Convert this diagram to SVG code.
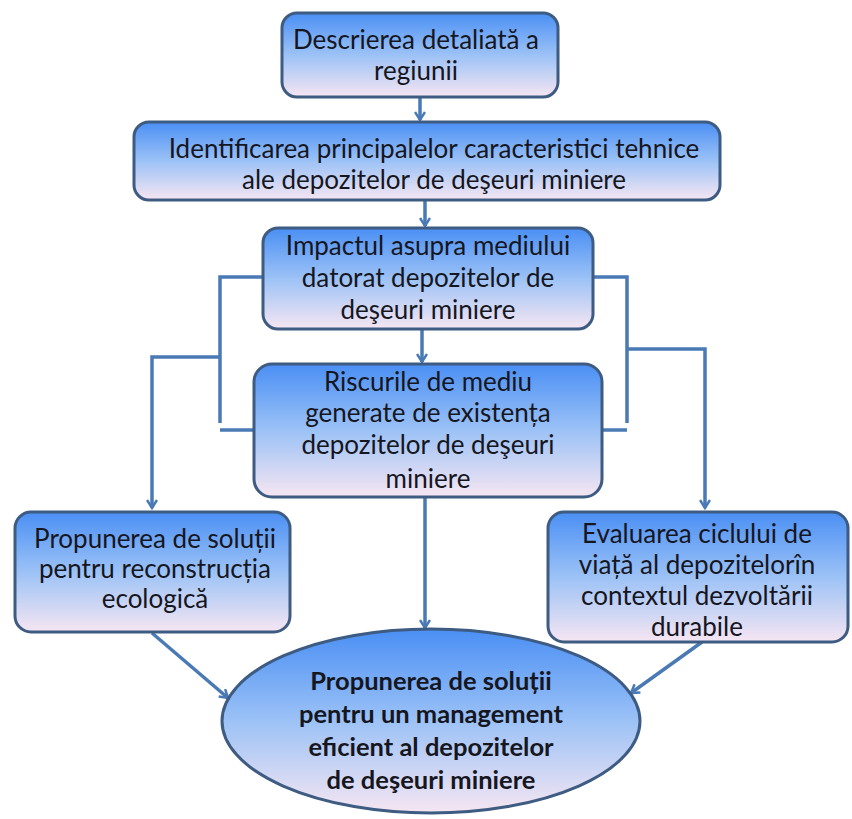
<svg xmlns="http://www.w3.org/2000/svg" width="852" height="819" viewBox="0 0 852 819">
<defs>
<linearGradient id="g" x1="0" y1="0" x2="0" y2="1">
<stop offset="0" stop-color="#4a8ff4"/>
<stop offset="0.5" stop-color="#9cc2f6"/>
<stop offset="1" stop-color="#f6e6f2"/>
</linearGradient>
<marker id="ah" markerWidth="12" markerHeight="12" refX="9" refY="6" orient="auto" markerUnits="userSpaceOnUse">
<path d="M1,1 L9,6 L1,11" fill="none" stroke="#4a7ab5" stroke-width="2.5"/>
</marker>
<style>
.box{fill:url(#g);stroke:#3e5b82;stroke-width:3}
.t{font-family:Lato,"Open Sans",sans-serif;font-size:26px;fill:#16161e;text-anchor:middle}
.b{font-weight:bold;font-size:25.5px}
.c{fill:none;stroke:#4a7ab5;stroke-width:3.5}
</style>
</defs>
<g id="connectors">
<path class="c" d="M420,97 V120" marker-end="url(#ah)"/>
<path class="c" d="M425,200 V226" marker-end="url(#ah)"/>
<path class="c" d="M422,329 V362" marker-end="url(#ah)"/>
<path class="c" d="M425,497 V628" marker-end="url(#ah)"/>
<path class="c" d="M263,277 H220 V423"/>
<path class="c" d="M254,430 H220"/>
<path class="c" d="M220,357 H152 V508" marker-end="url(#ah)"/>
<path class="c" d="M593,277 H627 V423"/>
<path class="c" d="M602,430 H627"/>
<path class="c" d="M627,349 H705 V508" marker-end="url(#ah)"/>
<path class="c" d="M152,633 L228,698" marker-end="url(#ah)"/>
<path class="c" d="M702,642 L631,693" marker-end="url(#ah)"/>
</g>
<g id="n1">
<rect class="box" x="282" y="13" width="276" height="84" rx="15"/>
<text class="t" x="416" y="49">Descrierea detaliată a</text>
<text class="t" x="416" y="80">regiunii</text>
</g>
<g id="n2">
<rect class="box" x="134" y="122" width="586" height="78" rx="15"/>
<text class="t" x="434" y="158">Identificarea principalelor caracteristici tehnice</text>
<text class="t" x="434" y="189">ale depozitelor de deşeuri miniere</text>
</g>
<g id="n3">
<rect class="box" x="263" y="228" width="330" height="101" rx="15"/>
<text class="t" x="428" y="255">Impactul asupra mediului</text>
<text class="t" x="428" y="287">datorat depozitelor de</text>
<text class="t" x="428" y="319">deşeuri miniere</text>
</g>
<g id="n4">
<rect class="box" x="254" y="364" width="348" height="133" rx="18"/>
<text class="t" x="428" y="391">Riscurile de mediu</text>
<text class="t" x="428" y="422">generate de existența</text>
<text class="t" x="428" y="454">depozitelor de deşeuri</text>
<text class="t" x="428" y="488">miniere</text>
</g>
<g id="n5">
<rect class="box" x="15" y="512" width="275" height="120" rx="16"/>
<text class="t" x="155" y="548">Propunerea de soluții</text>
<text class="t" x="155" y="578">pentru reconstrucția</text>
<text class="t" x="155" y="608">ecologică</text>
</g>
<g id="n6">
<rect class="box" x="548" y="512" width="300" height="130" rx="16"/>
<text class="t" x="697" y="543">Evaluarea ciclului de</text>
<text class="t" x="697" y="574">viață al depozitelorîn</text>
<text class="t" x="697" y="605">contextul dezvoltării</text>
<text class="t" x="697" y="636">durabile</text>
</g>
<g id="n7">
<ellipse class="box" cx="431" cy="721" rx="209" ry="92"/>
<text class="t b" x="431" y="690">Propunerea de soluții</text>
<text class="t b" x="431" y="723">pentru un management</text>
<text class="t b" x="431" y="756">eficient al depozitelor</text>
<text class="t b" x="431" y="789">de deşeuri miniere</text>
</g>
</svg>
